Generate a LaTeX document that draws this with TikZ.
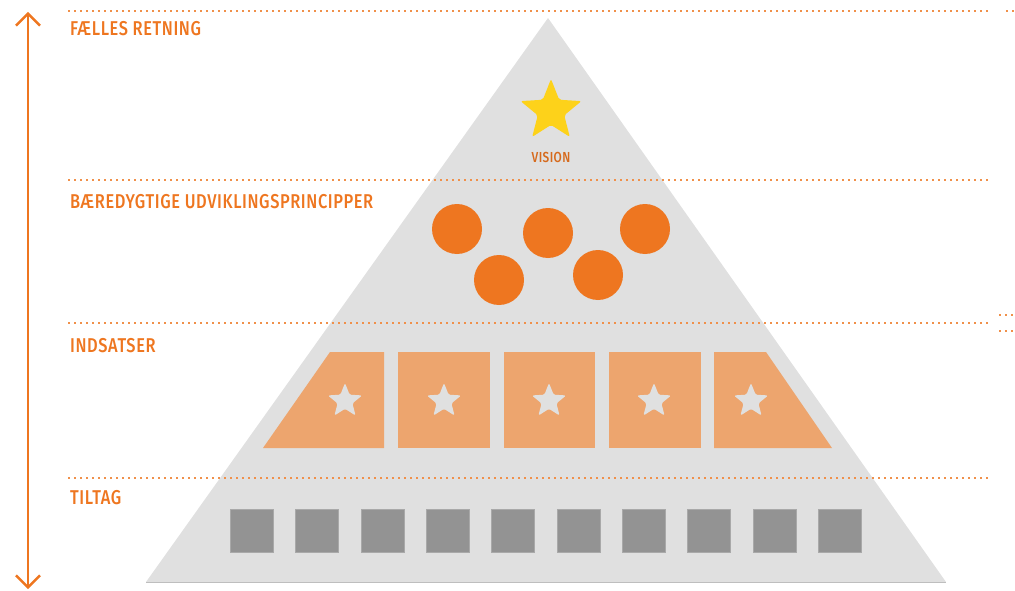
\documentclass[tikz,border=0pt]{standalone}
\usepackage{fontspec}
\newfontfamily\labelfont{Fira Sans Medium}[FakeStretch=0.82, LetterSpace=3]
\usetikzlibrary{arrows.meta, shapes.geometric}
\definecolor{pyrorange}{HTML}{EE7620}
\definecolor{dotorange}{HTML}{F0904A}
\definecolor{pyrgray}{HTML}{E0E0E0}
\definecolor{blockorange}{HTML}{EDA56E}
\definecolor{tiltaggray}{HTML}{939393}
\definecolor{visiongold}{HTML}{FDD21A}
\tikzset{
  levelline/.style={dotorange, line width=2.2pt, dash pattern=on 2.2pt off 3.8pt},
  levellabel/.style={anchor=base west, inner sep=0pt, text=pyrorange,
    font=\labelfont\fontsize{20}{20}\selectfont},
  principle/.style={circle, fill=pyrorange, minimum size=50pt, inner sep=0pt},
  tiltagbox/.style={fill=tiltaggray, draw=tiltaggray!80!white, line width=0.8pt,
    minimum size=43pt, inner sep=0pt},
  smallstar/.style={star, star points=5, star point ratio=2.3, fill=pyrgray,
    minimum size=36pt, inner sep=0pt, rounded corners=1.5pt},
}

\begin{document}
\begin{tikzpicture}[x=1pt, y=-1pt]
    \useasboundingbox (0,0) rectangle (1015,591);
    % pyramid
    \fill[pyrgray] (548,18) -- (946,582) -- (146,582) -- cycle;
    \draw[pyrgray!85!black, line width=0.8pt] (146,582) -- (946,582);

    % level lines
    \draw[levelline] (68,11) -- (990,11);
    \draw[levelline] (1006,11) -- (1015,11);
    \draw[levelline] (68,180) -- (990,180);
    \draw[levelline] (68,323) -- (990,323);
    \draw[levelline] (999,315) -- (1015,315);
    \draw[levelline] (999,331) -- (1015,331);
    \draw[levelline] (68,478) -- (990,478);

    % labels
    \node[levellabel] (retning) at (70,36) {FÆLLES RETNING};
    \node[levellabel] (principper) at (70,208) {BÆREDYGTIGE UDVIKLINGSPRINCIPPER};
    \node[levellabel] (indsatser) at (70,352) {INDSATSER};
    \node[levellabel] (tiltag) at (70,504) {TILTAG};

    % axis arrow
    \coordinate (axistop) at (28,12);
    \coordinate (axisbottom) at (28,589);
    \draw[pyrorange, line width=2.4pt,
      {Straight Barb[length=12pt, width=24pt]}-{Straight Barb[length=12pt, width=24pt]}]
      (axisbottom) -- (axistop);

    % vision
    \node[star, star points=5, star point ratio=2.3, fill=visiongold,
      minimum size=64pt, inner sep=0pt, rounded corners=2pt] (vision) at (551,111) {};
    \node[text=pyrorange!90!black, font=\labelfont\fontsize{14.5}{14.5}\selectfont,
      inner sep=0pt] (visiontext) at (551,157) {VISION};

    % principles
    \node[principle] (p1) at (457,229) {};
    \node[principle] (p2) at (499,280) {};
    \node[principle] (p3) at (548,233) {};
    \node[principle] (p4) at (598,275) {};
    \node[principle] (p5) at (645,229) {};

    % indsatser
    \fill[blockorange] (330,352) -- (384,352) -- (384,448) -- (263,448) -- cycle;
    \foreach \x in {398, 503.5, 609}
        \fill[blockorange] (\x,352) rectangle (\x+91.5,448);
    \fill[blockorange] (714,352) -- (766,352) -- (832,448) -- (714,448) -- cycle;
    \foreach \x [count=\i] in {345, 444, 549, 654, 751}
        \node[smallstar] (s\i) at (\x,401) {};

    % tiltag
    \foreach \i in {0,...,9}
        \node[tiltagbox] (t\i) at (252+65.3*\i,530.5) {};
\end{tikzpicture}
\end{document}
